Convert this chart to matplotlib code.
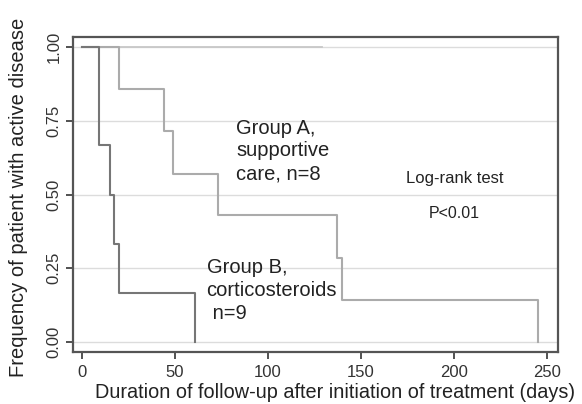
import matplotlib
matplotlib.use("Agg")
import matplotlib.pyplot as plt

plt.rcParams['font.family'] = ['Liberation Sans', 'DejaVu Sans']

# Kaplan-Meier step data (time in days, survival fraction)
a_times = [0, 20, 44, 49, 73, 137, 140, 245]
a_surv = [1.0, 0.857, 0.714, 0.571, 0.429, 0.286, 0.143, 0.0]
b_times = [0, 9, 15, 17, 20, 61]
b_surv = [1.0, 0.667, 0.5, 0.333, 0.167, 0.0]
ref_line_x = [0, 129]
ref_line_y = [1.0, 1.0]

x_ticks = [0, 50, 100, 150, 200, 250]
y_ticks = [0.0, 0.25, 0.5, 0.75, 1.0]
y_ticklabels = ["0.00", "0.25", "0.50", "0.75", "1.00"]

fig = plt.figure(figsize=(5.82, 4.04), dpi=100)
ax = fig.add_axes([0.1254, 0.1287, 0.8334, 0.7797])

for y in y_ticks:
    ax.axhline(y, color='#dcdcdc', lw=1.0, zorder=0)

ax.plot(ref_line_x, ref_line_y, color='#c8c8c8', lw=1.3, zorder=1)
ax.step(a_times + [a_times[-1]], a_surv + [0.0], where='post', color='#ababab', lw=1.5, zorder=2)
ax.step(b_times + [b_times[-1]], b_surv + [0.0], where='post', color='#767676', lw=1.5, zorder=3)

ax.set_xlim(-4.8, 256)
ax.set_ylim(-0.034, 1.034)
ax.set_xticks(x_ticks)
ax.set_yticks(y_ticks)
ax.set_yticklabels(y_ticklabels, rotation=90, va='center')
ax.tick_params(axis='both', labelsize=12, colors='#333333', length=5, width=1.2, direction='out')
ax.tick_params(axis='x', pad=4)
ax.tick_params(axis='y', pad=3)
for s in ax.spines.values():
    s.set_color('#555555')
    s.set_linewidth(1.6)

ax.set_xlabel("Duration of follow-up after initiation of treatment (days)", fontsize=14.3, color='#222222')
ax.set_ylabel("Frequency of patient with active disease", fontsize=14.5, color='#222222')
ax.xaxis.label.set_va('center')
ax.yaxis.label.set_va('center')
ax.xaxis.set_label_coords(0.540, -0.127)
ax.yaxis.set_label_coords(-0.113, 0.492)

ax.text(83, 0.757, "Group A,\nsupportive\ncare, n=8", fontsize=14.5, color='#222222',
        va='top', ha='left', linespacing=1.25)
ax.text(67, 0.285, "Group B,\ncorticosteroids\n n=9", fontsize=14.5, color='#222222',
        va='top', ha='left', linespacing=1.27)
ax.text(174, 0.555, "Log-rank test", fontsize=12, color='#222222', va='center', ha='left')
ax.text(200, 0.435, "P<0.01", fontsize=11.5, color='#222222', va='center', ha='center')

fig.savefig("out.png", dpi=100)
